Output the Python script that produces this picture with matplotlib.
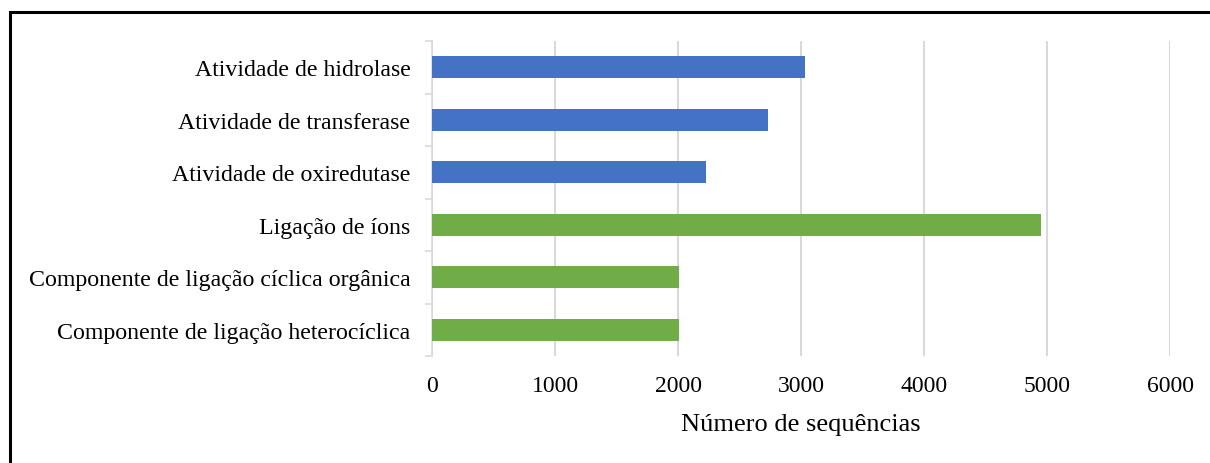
import matplotlib
matplotlib.use("Agg")
import matplotlib.pyplot as plt
from matplotlib.patches import Rectangle
from matplotlib.ticker import FixedLocator

categories = [
    "Atividade de hidrolase",
    "Atividade de transferase",
    "Atividade de oxiredutase",
    "Ligação de íons",
    "Componente de ligação cíclica orgânica",
    "Componente de ligação heterocíclica",
]
values = [3030, 2730, 2230, 4950, 2005, 2005]
colors = ["#4472C4", "#4472C4", "#4472C4", "#70AD47", "#70AD47", "#70AD47"]
x_ticks = [0, 1000, 2000, 3000, 4000, 5000, 6000]
x_label = "Número de sequências"

plt.rcParams["font.family"] = ["Liberation Serif", "DejaVu Serif"]

W, H = 1210, 464
fig = plt.figure(figsize=(W / 100, H / 100), dpi=100)
ax = fig.add_axes([432 / W, 1 - 357 / H, (1170 - 432) / W, (357 - 42) / H])

pos = list(range(len(categories)))
ax.barh(pos, values, height=0.41, color=colors, zorder=3)

ax.set_xlim(0, 6000)
ax.set_ylim(len(categories) - 0.5, -0.5)
ax.set_xticks(x_ticks)
ax.set_xticklabels([str(t) for t in x_ticks], fontsize=17)
ax.set_yticks(pos)
ax.set_yticklabels(categories, fontsize=17.2)
ax.yaxis.set_minor_locator(FixedLocator([p - 0.5 for p in range(len(categories) + 1)]))

ax.tick_params(axis="x", length=0, pad=14)
ax.tick_params(axis="y", which="major", length=0, pad=15.5)
ax.tick_params(axis="y", which="minor", length=5, width=1.2, color="#d9d9d9")

ax.grid(axis="x", color="#d9d9d9", linewidth=1.5, zorder=0)
for s in ["top", "right", "bottom"]:
    ax.spines[s].set_visible(False)
ax.spines["left"].set_color("#d9d9d9")
ax.spines["left"].set_linewidth(1.2)

ax.set_xlabel(x_label, fontsize=19, labelpad=12)

# outer frame
fig.patches.append(Rectangle((9.5 / W, -0.1), 1.2, (H - 13) / H + 0.1,
                             transform=fig.transFigure, fill=False,
                             edgecolor="black", linewidth=2.2))

fig.savefig("out.png", dpi=100)
